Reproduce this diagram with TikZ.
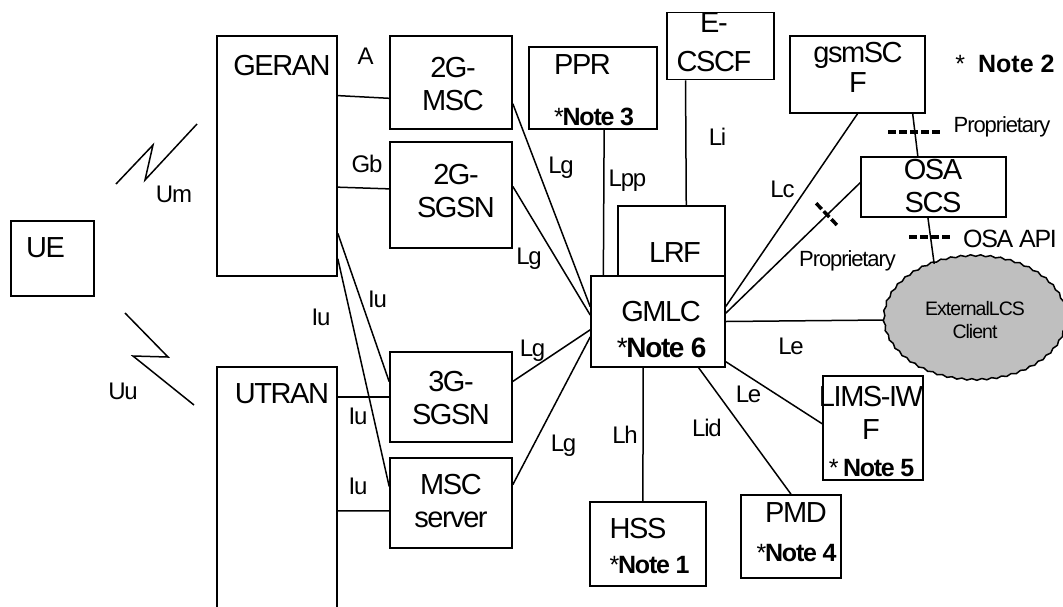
\documentclass[tikz,border=0pt]{standalone}
\usepackage{fontspec}
\setmainfont{Liberation Sans}
\newfontfamily\condfont{Liberation Sans}[LetterSpace=-5]
\usetikzlibrary{calc,shapes.geometric,decorations.pathmorphing}
\newcommand\boxfont{\condfont\fontsize{29}{33}\selectfont}
\newcommand\lblfont{\condfont\fontsize{24}{28}\selectfont}
\newcommand\notefont{\fontsize{25}{28}\selectfont}
\newcommand\propfont{\condfont\fontsize{22}{26}\selectfont}
\newcommand\extfont{\condfont\fontsize{19.5}{23}\selectfont}
\newcommand\notetxt[1]{{\notefont*\textbf{Note #1}}}
\tikzset{
  box/.style={draw, line width=1.6pt, inner sep=0pt},
  txt/.style={font=\boxfont, align=center, inner sep=0pt},
  lbl/.style={font=\lblfont, inner sep=0pt},
  link/.style={line width=1.5pt},
  radio/.style={line width=1.5pt, line join=miter},
  markdash/.style={line width=3.5pt, dash pattern=on 8pt off 3pt},
}
\begin{document}
\begin{tikzpicture}[x=1pt,y=-1pt]
\useasboundingbox (0,0) rectangle (1063,606);
% network elements
\node[box, minimum width=83pt, minimum height=75pt] (ue) at (52.5,258.5) {};
\node[box, minimum width=120pt, minimum height=240pt] (geran) at (277,156) {};
\node[box, minimum width=120pt, minimum height=250pt] (utran) at (277,492) {};
\node[box, minimum width=122pt, minimum height=93pt] (msc2g) at (451,82.5) {};
\node[box, minimum width=122pt, minimum height=106pt] (sgsn2g) at (451,195) {};
\node[box, minimum width=122pt, minimum height=90pt] (sgsn3g) at (451,397) {};
\node[box, minimum width=122pt, minimum height=90pt] (mscs) at (451,503) {};
\node[box, minimum width=128pt, minimum height=82pt] (ppr) at (593,88) {};
\node[box, minimum width=107pt, minimum height=67pt] (ecscf) at (720.5,46) {};
\node[box, minimum width=135pt, minimum height=77pt] (gsmscf) at (857.5,74.5) {};
\node[box, minimum width=145pt, minimum height=60pt] (osa) at (933.5,187) {};
\node[box, minimum width=107pt, minimum height=70pt] (lrf) at (671.5,241) {};
\node[box, minimum width=134pt, minimum height=91pt] (gmlc) at (658,321.5) {};
\node[box, minimum width=116pt, minimum height=84pt] (hss) at (648,544) {};
\node[box, minimum width=100pt, minimum height=83pt] (pmd) at (791,536.5) {};
\node[box, minimum width=100pt, minimum height=104pt] (limsiwf) at (873,428) {};
\node[ellipse, draw, fill=gray!50, line width=1.5pt, decorate,
  decoration={snake, amplitude=0.8pt, segment length=10pt},
  minimum width=182pt, minimum height=124pt, inner sep=0pt,
  font=\extfont, align=center] (ext) at (975,320) {ExternalLCS\\Client};

% texts in the boxes
\node[txt] (ue-t) at (45.5,248) {UE};
\node[txt] (geran-t) at (282,65.5) {GERAN};
\node[txt] (utran-t) at (282,394) {UTRAN};
\node[txt] (msc2g-t) at (453,84.5) {2G-\\MSC};
\node[txt] (sgsn2g-t) at (456,191) {2G-\\SGSN};
\node[txt] (sgsn3g-t) at (451,398.5) {3G-\\SGSN};
\node[txt] (mscs-t) at (451,501.5) {MSC\\server};
\node[txt, align=left] (ppr-t) at (593.5,90) {PPR\\[18pt]\notetxt{3}};
\node[txt] (ecscf-t) at (714,42.5) {E-\\[6pt]CSCF};
\node[txt] (gsmscf-t) at (858,67.5) {gsmSC\\[-3pt]F};
\node[txt] (osa-t) at (933,186) {OSA\\SCS};
\node[txt] (lrf-t) at (675,253) {LRF};
\node[txt] (gmlc-t) at (661,330) {GMLC\\[3pt]{\fontsize{28}{33}\selectfont*\textbf{Note 6}}};
\node[txt, align=left] (hss-t) at (649,546) {HSS\\[2pt]\notetxt{1}};
\node[txt] (pmd-t) at (796,532.5) {PMD\\[6pt]\notetxt{4}};
\node[txt] (limsiwf-t) at (871,431.5) {LIMS-IW\\F\\[4pt]{\notefont* \textbf{Note 5}}};
\node[lbl, font=\notefont] (note2) at (1005,64) {*\hspace{13pt}\textbf{Note 2}};

% radio links
\draw[radio] (116,184) -- (153,145) -- (145,180) -- (197,124);
\draw[radio] (125,313) -- (168,357) -- (133,356) -- (194,405);

% interfaces
\draw[link] ($(geran.north east)!.25!(geran.south east)$) -- ($(msc2g.north west)!.667!(msc2g.south west)$);
\draw[link] ($(geran.north east)!.629!(geran.south east)$) -- ($(sgsn2g.north west)!.443!(sgsn2g.south west)$);
\draw[link] ($(geran.north east)!.82!(geran.south east)$) -- ($(sgsn3g.north west)!.333!(sgsn3g.south west)$);
\draw[link] ($(geran.north east)!.925!(geran.south east)$) -- ($(mscs.north west)!.32!(mscs.south west)$);
\draw[link] (sgsn3g.west -| utran.east) -- (sgsn3g.west);
\draw[link] ($(utran.north east)!.575!(utran.south east)$) -- ($(mscs.north west)!.586!(mscs.south west)$);
\draw[link] ($(msc2g.north east)!.724!(msc2g.south east)$) -- ($(gmlc.north west)!.34!(gmlc.south west)$);
\draw[link] ($(sgsn2g.north east)!.42!(sgsn2g.south east)$) -- ($(gmlc.north west)!.43!(gmlc.south west)$);
\draw[link] ($(sgsn3g.north east)!.33!(sgsn3g.south east)$) -- ($(gmlc.north west)!.59!(gmlc.south west)$);
\draw[link] ($(mscs.north east)!.3!(mscs.south east)$) -- ($(gmlc.north west)!.667!(gmlc.south west)$);
\draw[link] ($(ppr.south west)!.586!(ppr.south east)$) -- ($(gmlc.north west)!.097!(gmlc.north east)$);
\draw[link] ($(ecscf.south west)!.178!(ecscf.south east)$) -- ($(lrf.north west)!.636!(lrf.north east)$);
\draw[link] (gsmscf.south) -- ($(gmlc.north east)!.337!(gmlc.south east)$);
\draw[link] ($(gmlc.north east)!.41!(gmlc.south east)$) -- coordinate[pos=.754] (propx) ($(osa.north west)!.43!(osa.south west)$);
\draw[link] ($(gsmscf.south west)!.904!(gsmscf.south east)$) -- coordinate[pos=.43] (propy) ($(osa.north west)!.393!(osa.north east)$);
\draw[link] ($(osa.south west)!.462!(osa.south east)$) -- coordinate[pos=.42] (apix) (ext.126);
\draw[link] (gmlc.east) -- (ext.west);
\draw[link] ($(gmlc.north east)!.934!(gmlc.south east)$) -- ($(limsiwf.north west)!.46!(limsiwf.south west)$);
\draw[link] ($(gmlc.south west)!.8!(gmlc.south east)$) -- (pmd.north);
\draw[link] ($(gmlc.south west)!.39!(gmlc.south east)$) -- ($(hss.north west)!.457!(hss.north east)$);

% proprietary / API marks
\draw[markdash] ([shift={(-11pt,11.5pt)}]propx) -- ([shift={(11pt,-11.5pt)}]propx);
\draw[markdash] ([xshift=-26.5pt]propy) -- ([xshift=26.5pt]propy);
\draw[markdash] ([xshift=-21.5pt]apix) -- ([xshift=21.5pt]apix);

% interface names
\node[lbl] (l-a) at (365.5,56.5) {A};
\node[lbl] (l-gb) at (367,164) {Gb};
\node[lbl] (l-um) at (174,194) {Um};
\node[lbl] (l-uu) at (123,391) {Uu};
\node[lbl] (l-iu1) at (377.5,299) {Iu};
\node[lbl] (l-iu2) at (321,317) {Iu};
\node[lbl] (l-iu3) at (358,416.5) {Iu};
\node[lbl] (l-iu4) at (358,486.5) {Iu};
\node[lbl] (l-lg1) at (561,167.5) {Lg};
\node[lbl] (l-lg2) at (529,258.5) {Lg};
\node[lbl] (l-lg3) at (532.5,350.5) {Lg};
\node[lbl] (l-lg4) at (563.5,445.5) {Lg};
\node[lbl] (l-lpp) at (627.5,180.5) {Lpp};
\node[lbl] (l-li) at (717.5,136.5) {Li};
\node[lbl] (l-lc) at (782.5,189) {Lc};
\node[lbl] (l-lh) at (625,434.5) {Lh};
\node[lbl] (l-lid) at (707,427.5) {Lid};
\node[lbl] (l-le1) at (791,346) {Le};
\node[lbl] (l-le2) at (748.5,394) {Le};
\node[lbl, font=\propfont] (l-prop1) at (847.5,261.3) {Proprietary};
\node[lbl, font=\propfont] (l-prop2) at (1002,127.3) {Proprietary};
\node[lbl, font=\condfont\fontsize{25}{29}\selectfont] (l-api) at (1010,239) {OSA API};
\end{tikzpicture}
\end{document}
